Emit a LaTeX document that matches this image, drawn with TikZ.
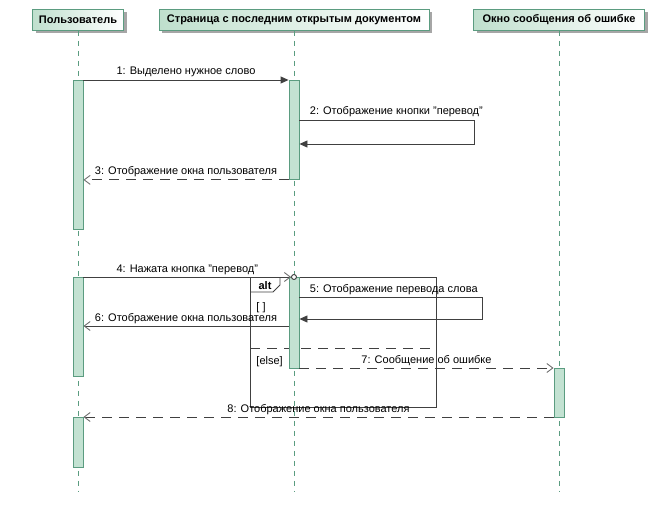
\documentclass[tikz,border=0pt]{standalone}
\usepackage{fontspec}
\setmainfont{Liberation Sans}
\usepackage{tikz}
\usetikzlibrary{arrows.meta,positioning,calc,shadows}
\definecolor{LifeGreen}{HTML}{5B9C80}
\definecolor{ActFill}{HTML}{C3E2D2}
\definecolor{HeadFill}{HTML}{BFDFCD}
\definecolor{MsgGray}{HTML}{404040}
\definecolor{TipGray}{HTML}{707070}

\begin{document}
\begin{tikzpicture}[
  x=1pt,y=-1pt,line width=0.9pt,
  font=\fontsize{11}{13}\selectfont,
  head/.style={draw=LifeGreen,left color=HeadFill,right color=white,minimum height=21pt,inner sep=3pt,
    font=\fontsize{11}{13}\selectfont\bfseries,
    drop shadow={shadow xshift=3pt,shadow yshift=-3pt,fill=black!35,opacity=1}},
  life/.style={draw=LifeGreen,dash pattern=on 5pt off 5pt},
  act/.style={draw=LifeGreen,fill=ActFill,minimum width=10pt,inner sep=0pt,anchor=north},
  call/.style={draw=MsgGray,-{Triangle[length=8pt,width=7pt,fill=MsgGray]}},
  async/.style={draw=MsgGray,-{Straight Barb[length=6pt,width=9pt,color=TipGray]}},
  reply/.style={async,dash pattern=on 10pt off 7pt},
  lbl/.style={anchor=base,yshift=5pt,inner sep=0pt},
  frame/.style={draw=MsgGray}
]
\useasboundingbox (0,0) rectangle (656,516);

% lifelines
\node[head,minimum width=91pt] (user) at (78,20) {Пользователь};
\node[head,minimum width=270pt] (page) at (294,20) {Страница с последним открытым документом};
\node[head,minimum width=171pt] (err) at (559,20) {Окно сообщения об ошибке};
\coordinate (userEnd) at (78,492);
\coordinate (pageEnd) at (294,492);
\coordinate (errEnd) at (559,492);
\draw[life] (user) -- (userEnd);
\draw[life] (page) -- (pageEnd);
\draw[life] (err) -- (errEnd);

% alt fragment
\node[frame,anchor=north west,minimum width=186pt,minimum height=130pt,inner sep=0pt] (alt) at (250,277) {};
\draw[frame] (alt.north west) ++(30,0) -- ++(0,8) -- ++(-7,7) -- ++(-23,0);
\node[font=\fontsize{11}{13}\selectfont\bfseries,anchor=base,inner sep=0pt] (altTag) at (265,289) {alt};
\coordinate (sep) at (250,348);
\draw[frame,dash pattern=on 10pt off 7pt] (sep) -- (sep -| alt.east);
\node[anchor=base west,inner sep=0pt] (g1) at (256,310) {[ ]};
\node[anchor=base west,inner sep=0pt] (g2) at (256,364) {[else]};

% activations
\node[act,minimum height=149pt] (a1) at (78,80) {};
\node[act,minimum height=99pt] (a2) at (294,80) {};
\node[act,minimum height=99pt] (a3) at (78,277) {};
\node[act,minimum height=91pt] (a4) at (294,277) {};
\node[act,minimum height=49pt] (a5) at (559,368) {};
\node[act,minimum height=50pt] (a6) at (78,417) {};

% messages
\draw[call] (a1.north east) -- node[lbl,midway] (l1) {1: Выделено нужное слово} (a2.north west);
\coordinate (t2) at (474,120);
\coordinate (b2) at (474,144);
\draw[call] (a2.east |- t2) -- node[lbl,pos=0,anchor=base west,xshift=10pt] (l2) {2: Отображение кнопки "перевод"} (t2) -- (b2) -- (a2.east |- b2);
\draw[reply] (a2.south west) -- node[lbl,midway] (l3) {3: Отображение окна пользователя} (a1.east |- a2.south);

\node[circle,draw=MsgGray,fill=white,inner sep=0pt,minimum size=5pt] (found) at (294,277) {};
\draw[async] (a3.north east) -- node[lbl,midway] (l4) {4: Нажата кнопка "перевод"} (found.west);
\coordinate (t5) at (482,297);
\coordinate (b5) at (482,319);
\draw[call] (a4.east |- t5) -- node[lbl,pos=0,anchor=base west,xshift=10pt] (l5) {5: Отображение перевода слова} (t5) -- (b5) -- (a4.east |- b5);
\coordinate (m6) at (294,326);
\draw[async] (a4.west |- m6) -- node[lbl,midway] (l6) {6: Отображение окна пользователя} (a3.east |- m6);
\draw[reply] (a4.east |- a5.north) -- node[lbl,midway] (l7) {7: Сообщение об ошибке} (a5.north west);
\draw[reply] (a5.west |- a6.north) -- node[lbl,midway] (l8) {8: Отображение окна пользователя} (a6.north east);
\end{tikzpicture}
\end{document}
